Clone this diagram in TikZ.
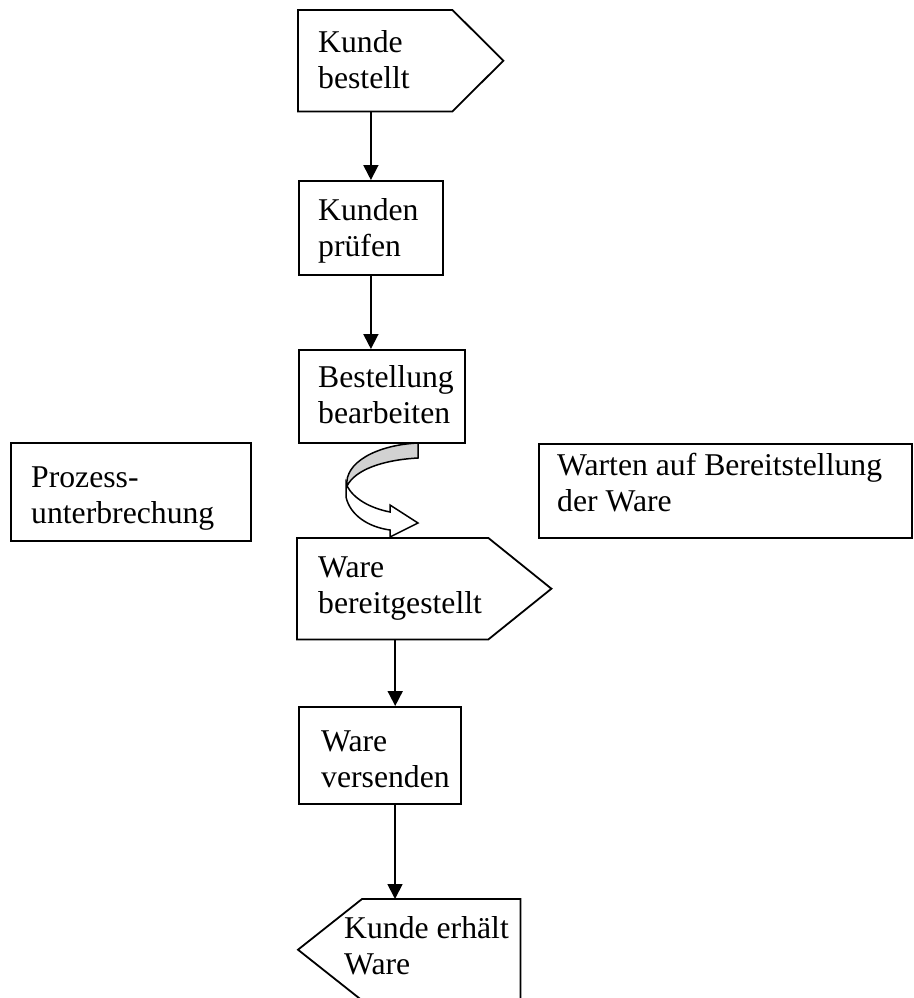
\documentclass[tikz,border=0pt]{standalone}
\usepackage{fontspec}
\setmainfont{Liberation Serif}
\usetikzlibrary{arrows.meta,calc}
\begin{document}
\begin{tikzpicture}[x=1pt,y=-1pt,
  outline/.style={draw=black, line width=1.8pt, line join=miter},
  stepbox/.style={outline, rectangle, inner sep=0pt, anchor=north west},
  area/.style={rectangle, inner sep=0pt, anchor=north west},
  txt/.style={anchor=north west, inner sep=0pt, align=left,
              font=\fontsize{31.7}{36}\selectfont},
  flow/.style={line width=1.8pt, -{Triangle[length=15pt,width=15pt]}},
]
\useasboundingbox (0,0) rectangle (913,998);
\clip (0,0) rectangle (913,998);

% --- event: order placed (pentagon pointing right)
\node[area, minimum width=154pt, minimum height=101pt] (order) at (298,10) {};
\draw[outline] (order.north west) -- (order.north east) -- ($(order.east)+(51,0)$)
  -- (order.south east) -- (order.south west) -- cycle;
\node[txt] (ordertxt) at (318,30) {Kunde\\bestellt};

% --- function: check customer
\node[stepbox, minimum width=144pt, minimum height=94pt] (check) at (298,180) {};
\node[txt] (checktxt) at (318,198) {Kunden\\prüfen};

% --- function: process order
\node[stepbox, minimum width=166pt, minimum height=93pt] (process) at (298,349) {};
\node[txt] (processtxt) at (318,365) {Bestellung\\bearbeiten};

% --- side notes
\node[stepbox, minimum width=240pt, minimum height=98pt] (pause) at (10,442) {};
\node[txt] (pausetxt) at (31,467) {Prozess-\\unterbrechung};

\node[stepbox, minimum width=373pt, minimum height=94pt] (wait) at (538,443) {};
\node[txt] (waittxt) at (557,453) {Warten auf Bereitstellung\\der Ware};

% --- interruption symbol (curved arrow)
\filldraw[fill=gray!35, draw=black, line width=1.5pt, line join=miter]
  (418,443) -- (418,458) .. controls (382,460) and (355,470) .. (347,486)
  .. controls (344,463) and (376,445) .. (418,443) -- cycle;
\filldraw[fill=white, draw=black, line width=1.5pt, line join=miter]
  (346,483) -- (346,497) .. controls (350,515) and (368,527) .. (390,530)
  -- (390,537) -- (418,523) -- (390,505) -- (390,512)
  .. controls (370,508) and (354,499) .. (347,486) -- cycle;

% --- event: goods ready (pentagon pointing right)
\node[area, minimum width=191pt, minimum height=101pt] (ready) at (297,538) {};
\draw[outline] (ready.north west) -- (ready.north east) -- ($(ready.east)+(63,0)$)
  -- (ready.south east) -- (ready.south west) -- cycle;
\node[txt] (readytxt) at (318,557) {Ware\\bereitgestellt};

% --- function: ship goods
\node[stepbox, minimum width=162pt, minimum height=97pt] (ship) at (298,706) {};
\node[txt] (shiptxt) at (321,731) {Ware\\versenden};

% --- event: customer receives goods (pentagon pointing left)
\node[area, minimum width=222pt, minimum height=101pt] (receive) at (298,899) {};
\draw[outline] ($(receive.north west)+(64,0)$) -- (receive.north east)
  -- (receive.south east) -- ($(receive.south west)+(64,0)$) -- (receive.west) -- cycle;
\node[txt] (receivetxt) at (344,916) {Kunde erhält\\Ware};

% --- control flow
\draw[flow] (check.north |- order.south) -- (check.north);
\draw[flow] (check.south) -- (check.south |- process.north);
\draw[flow] ([xshift=2.5pt]ready.south) -- ([xshift=2.5pt]ready.south |- ship.north);
\draw[flow] ([xshift=97pt]ship.south west) -- ([xshift=97pt]ship.south west |- receive.north);
\end{tikzpicture}
\end{document}
